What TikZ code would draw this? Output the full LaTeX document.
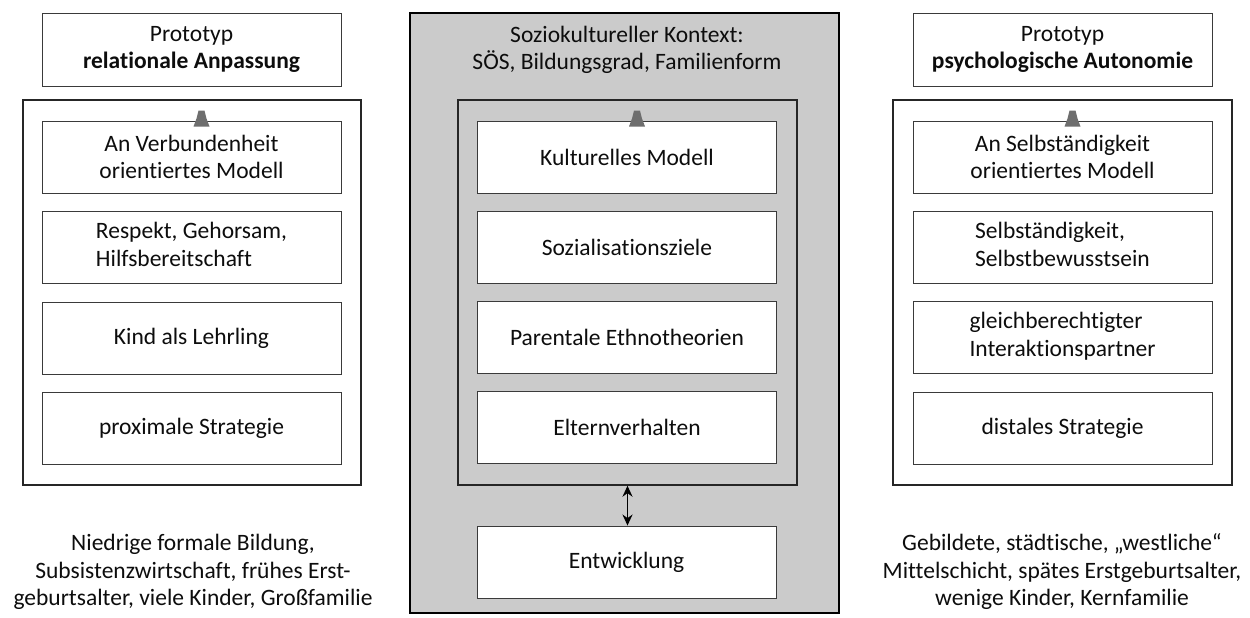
\documentclass[tikz,border=0pt]{standalone}
\usepackage{fontspec}
\setmainfont{Carlito}[Ligatures=NoCommon]
\usetikzlibrary{arrows.meta}
\definecolor{boxline}{HTML}{3A3A3A}
\definecolor{ctxfill}{HTML}{CBCBCB}
\definecolor{tricol}{HTML}{6E6E6E}
\begin{document}
\begin{tikzpicture}[x=1pt,y=-1pt,
  txt/.style={font=\fontsize{23.5}{27.5}\selectfont, text=black!95, align=center, inner sep=0pt},
  itembox/.style={txt, draw=boxline, line width=0.9pt, fill=white, minimum width=299pt, minimum height=72pt},
  frame/.style={draw=black!85, line width=1.4pt, minimum width=338pt, minimum height=385pt, inner sep=0pt},
  ctx/.style={draw=black, line width=2pt, fill=ctxfill, minimum width=429pt, minimum height=600pt, inner sep=0pt},
  trimark/.style={fill=tricol},
  dblarrow/.style={{Stealth[length=11pt,width=10pt]}-{Stealth[length=11pt,width=10pt]}, line width=1.7pt, black}
]
\useasboundingbox[fill=white] (0,0) rectangle (1250,618);

% ---------- left column ----------
\node[itembox, minimum height=73pt] (lp) at (191.5,49.5) {Prototyp\\\textbf{relationale Anpassung}};
\node[frame] (lf) at (192,292.5) {};
\node[itembox] (l1) at (191.5,157) {An Verbundenheit\\orientiertes Modell};
\node[itembox] (l2) at (191.5,247) {\begin{tabular}{@{}l@{}}Respekt, Gehorsam,\\Hilfsbereitschaft\end{tabular}};
\node[itembox] (l3) at (191.5,338) {Kind als Lehrling};
\node[itembox] (l4) at (191.5,428) {proximale Strategie};
\node[txt] (lb) at (193,572) {Niedrige formale Bildung,\\Subsistenzwirtschaft, frühes Erst-\\geburtsalter, viele Kinder, Großfamilie};

% ---------- centre column ----------
\node[ctx] (cx) at (624.5,313) {};
\node[txt] (ct) at (627,50) {Soziokultureller Kontext:\\SÖS, Bildungsgrad, Familienform};
\node[frame, minimum width=339pt] (cf) at (627.5,292.5) {};
\node[itembox] (c1) at (627,157) {Kulturelles Modell};
\node[itembox] (c2) at (627,247) {Sozialisationsziele};
\node[itembox] (c3) at (627,337) {Parentale Ethnotheorien};
\node[itembox] (c4) at (627,427) {Elternverhalten};
\node[itembox] (ce) at (626.5,562) {Entwicklung};
\draw[dblarrow] (ce.north -| cf.south) -- (cf.south);

% ---------- right column ----------
\node[itembox, minimum height=73pt] (rp) at (1062.5,49.5) {Prototyp\\\textbf{psychologische Autonomie}};
\node[frame, minimum width=339pt] (rf) at (1062.5,292.5) {};
\node[itembox] (r1) at (1062.5,157) {An Selbständigkeit\\orientiertes Modell};
\node[itembox] (r2) at (1062.5,247) {\begin{tabular}{@{}l@{}}Selbständigkeit,\\Selbstbewusstsein\end{tabular}};
\node[itembox] (r3) at (1062.5,337) {\begin{tabular}{@{}l@{}}gleichberechtigter\\Interaktionspartner\end{tabular}};
\node[itembox] (r4) at (1062.5,428) {distales Strategie};
\node[txt] (rb) at (1062,572) {Gebildete, städtische, „westliche“\\Mittelschicht, spätes Erstgeburtsalter,\\wenige Kinder, Kernfamilie};

% ---------- small marks at the top of each frame ----------
\foreach \b in {l1,c1,r1}{
  \fill[trimark] ([xshift=10pt]\b.north) ++(-8,6) -- ++(3,-8) -- ++(2,-8) -- ++(6,0) -- ++(2,8) -- ++(3,8) -- cycle;
}
\end{tikzpicture}
\end{document}
